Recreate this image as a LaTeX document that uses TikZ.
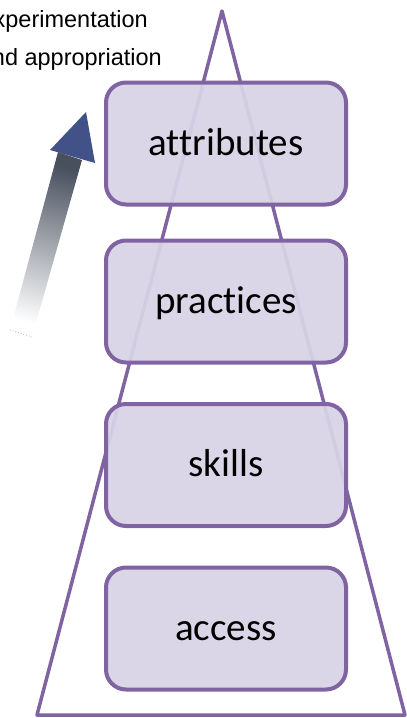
\documentclass[tikz,border=0pt]{standalone}
\usepackage{fontspec}
\setmainfont{Carlito}[Ligatures=NoCommon]
\newfontfamily\arialf{Liberation Sans}
\definecolor{boxline}{HTML}{8064A2}
\definecolor{boxfill}{HTML}{D8D3E6}
\definecolor{shafttop}{HTML}{48505E}
\definecolor{headcol}{HTML}{435189}
\begin{document}
\begin{tikzpicture}[x=1pt,y=-1pt,
  layer/.style={draw=boxline, line width=4pt, fill=boxfill, fill opacity=0.94, text opacity=1,
    rounded corners=20pt, minimum width=240pt, minimum height=122pt, inner sep=0pt,
    text height=27pt, text depth=4pt, font=\fontsize{39}{44}\selectfont},
  triline/.style={draw=boxline, line width=3.5pt, line join=round},
  sidetext/.style={anchor=base east, inner sep=0pt, font=\arialf\fontsize{23.5}{28}\selectfont}]
\useasboundingbox (0,0) rectangle (407,718);
\clip (0,0) rectangle (407,718);
% side texts
\node[sidetext] (t1) at (148,27) {experimentation};
\node[sidetext] (t2) at (162,65) {and appropriation};
% triangle
\coordinate (apex) at (222,11);
\coordinate (bl) at (37,715);
\coordinate (br) at (405,715);
\draw[triline] (apex) -- (bl) -- (br) -- cycle;
% arrow
\shade[top color=shafttop, bottom color=white, shading angle=-15.4]
  (10,330) -- (32,337) -- (82,160) -- (58,152) -- cycle;
\draw[dotted, gray!60, line width=0.8pt] (10,330) -- (32,337);
\fill[headcol] (50,150) -- (95,163) -- (86,112) -- cycle;
% layers
\node[layer] (attr) at (226,143.5) {attributes};
\node[layer] (prac) at (226,301.5) {practices};
\node[layer] (skil) at (226,465) {skills};
\node[layer] (acc) at (226,628.5) {access};
\end{tikzpicture}
\end{document}
